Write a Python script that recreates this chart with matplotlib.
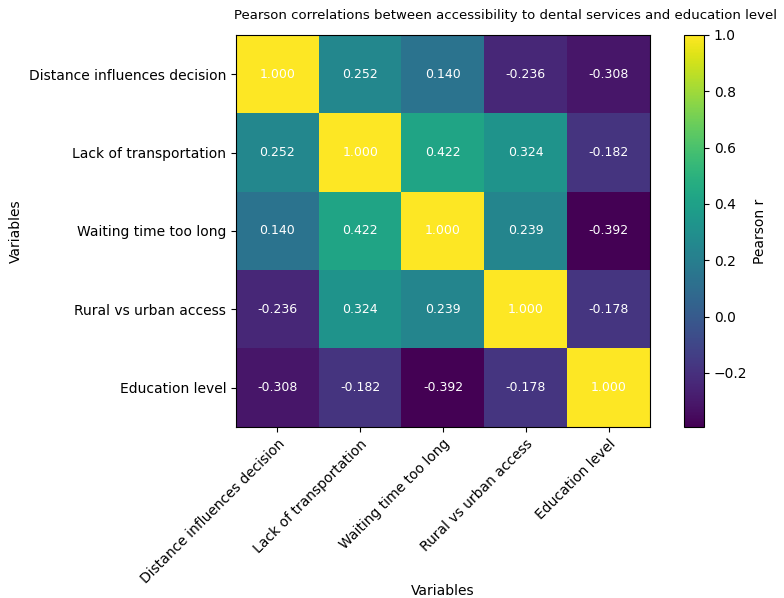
import numpy as np
import matplotlib.pyplot as plt

# variables and correlation matrix
labels = ["Distance influences decision", "Lack of transportation",
          "Waiting time too long", "Rural vs urban access", "Education level"]
row0 = [1.000, 0.252, 0.140, -0.236, -0.308]
row1 = [0.252, 1.000, 0.422, 0.324, -0.182]
row2 = [0.140, 0.422, 1.000, 0.239, -0.392]
row3 = [-0.236, 0.324, 0.239, 1.000, -0.178]
row4 = [-0.308, -0.182, -0.392, -0.178, 1.000]

corr = np.array([row0, row1, row2, row3, row4])

fig = plt.figure(figsize=(7.84, 5.98), dpi=100)
ax = fig.add_axes([236/784, 1 - 427/598, 414/784, 392/598])
cax = fig.add_axes([684/784, 1 - 427/598, 20/784, 392/598])

im = ax.imshow(corr, cmap="viridis", aspect="auto")

for i in range(len(labels)):
    for j in range(len(labels)):
        ax.text(j, i, f"{corr[i, j]:.3f}", ha="center", va="center",
                color="white", fontsize=9)

ax.set_xticks(range(len(labels)))
ax.set_yticks(range(len(labels)))
ax.set_xticklabels(labels, rotation=45, ha="right", rotation_mode="anchor", fontsize=10)
ax.set_yticklabels(labels, fontsize=10)
ax.set_xlabel("Variables", fontsize=10)
ax.xaxis.set_label_coords(0.5, -0.40)
ax.set_ylabel("Variables", fontsize=10)

cb = fig.colorbar(im, cax=cax)
cb.set_label("Pearson r", fontsize=10)
cb.ax.tick_params(labelsize=10)

# title runs to the right edge like the reference
fig.text(234/784, 1 - 15/598, "Pearson correlations between accessibility to dental services and education level",
         ha="left", va="center", fontsize=9.5)

fig.savefig("out.png", dpi=100)
